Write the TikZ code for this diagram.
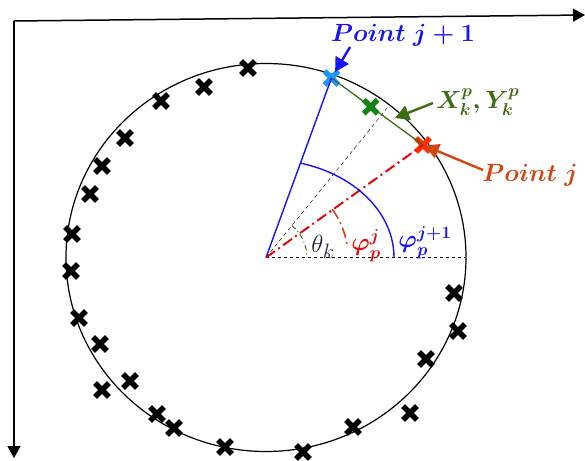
\documentclass[tikz,border=0pt]{standalone}
\usepackage{amsmath}
\usepackage{amssymb}
\usepackage{xcolor}
\usepackage{tikz}
\usetikzlibrary{shapes,arrows.meta,positioning,calc}

\definecolor{ptblue}{RGB}{20,20,245}
\definecolor{ptcyan}{RGB}{30,150,255}
\definecolor{ptgreen}{RGB}{60,110,20}
\definecolor{ptgreenx}{RGB}{20,130,20}
\definecolor{ptred}{RGB}{225,10,10}
\definecolor{ptredx}{RGB}{255,45,0}
\definecolor{ptorange}{RGB}{210,70,20}
\definecolor{thetacol}{RGB}{25,40,65}

\begin{document}
\begin{tikzpicture}[x=1pt,y=1pt,
    xmark/.style={cross out, draw, line width=5.4pt, minimum size=8.5pt, inner sep=0pt},
    lbl/.style={font=\fontsize{24}{28}\selectfont, inner sep=1pt},
    pointer/.style={line width=2.4pt, -{Triangle[length=14pt,width=15pt]}},
    dashdot/.style={dash pattern=on 11pt off 4pt on 2pt off 4pt}]
    \useasboundingbox (0,0) rectangle (585,-460);

    % Axes
    \coordinate (corner) at (14,-21);
    \coordinate (xend) at (585,-15);
    \coordinate (yend) at (14,-458);
    \draw[line width=1.5pt, -{Triangle[length=12pt,width=13pt]}] (corner) -- (xend);
    \draw[line width=1.5pt, -{Triangle[length=12pt,width=13pt]}] (corner) -- (yend);

    % Circle
    \coordinate (O) at (266,-257.5);
    \draw[line width=1.2pt] (O) ellipse [x radius=200, y radius=194];

    % Measured points on the circle
    \foreach \x/\y [count=\i] in {248/-68, 204/-87, 161/-101, 125/-138, 102/-166,
        90/-194, 72/-234, 71/-271, 79/-318, 100/-344, 130/-381, 102/-390,
        157/-414, 174/-428, 225/-447, 303/-452, 353/-427, 410/-413,
        426/-359, 458/-331, 454/-293}
        \node[xmark] (c\i) at (\x,\y) {};

    % Reference lines
    \coordinate (east) at (465,-257.5);
    \coordinate (dend) at (388,-107);
    \draw[dashed, thin] (O) -- (east);
    \draw[dash pattern=on 4pt off 3pt, thin] (O) -- (dend);

    % Segment j -- j+1
    \node[xmark, color=ptcyan] (pj1) at (331.5,-78) {};
    \node[xmark, color=ptredx] (pj) at (423,-145) {};
    \draw[ptgreen, line width=1.3pt] (pj1.center) -- (pj.center);
    \node[xmark, color=ptgreenx] (pk) at (370.7,-106.7) {};

    % Angles
    \draw[ptblue, line width=1.4pt] (O) -- (pj1.center);
    \draw[ptred, line width=2pt, dashdot] (O) -- (pj.center);
    \draw[ptblue, line width=1.4pt] (O) ++(128,0) arc[start angle=0, end angle=74, x radius=128, y radius=98];
    \draw[ptorange, line width=1.6pt, dashdot] (O) ++(36:82) arc[start angle=36, end angle=9, radius=82];
    \draw[ptgreen!70!black, line width=0.9pt, dash pattern=on 5pt off 3pt on 1pt off 3pt] (O) ++(51:41) arc[start angle=51, end angle=0, radius=41];

    % Labels
    \node[lbl, ptblue] (lpj1) at (403,-35) {$\boldsymbol{Point\ j+1}$};
    \node[lbl, ptorange] (lpj) at (530,-175) {$\boldsymbol{Point\ j}$};
    \node[lbl, ptgreen, anchor=west] (lpk) at (435,-102) {$\boldsymbol{X_k^p, Y_k^p}$};
    \node[lbl, thetacol, font=\fontsize{30}{34}\selectfont] (ltheta) at (323,-247) {$\theta_k$};
    \node[lbl, ptred] (lphij) at (366,-246) {$\boldsymbol{\varphi_p^j}$};
    \node[lbl, ptblue] (lphij1) at (425,-243) {$\boldsymbol{\varphi_p^{j+1}}$};

    % Pointers
    \coordinate (tb) at (350,-47);
    \coordinate (tg) at (433,-103);
    \coordinate (gtip) at (395,-118);
    \coordinate (tr) at (483,-170);
    \draw[pointer, ptblue, shorten >=7pt] (tb) -- (pj1.center);
    \draw[pointer, ptgreen] (tg) -- (gtip);
    \draw[pointer, ptorange, shorten >=2pt] (tr) -- (pj.center);
\end{tikzpicture}
\end{document}
